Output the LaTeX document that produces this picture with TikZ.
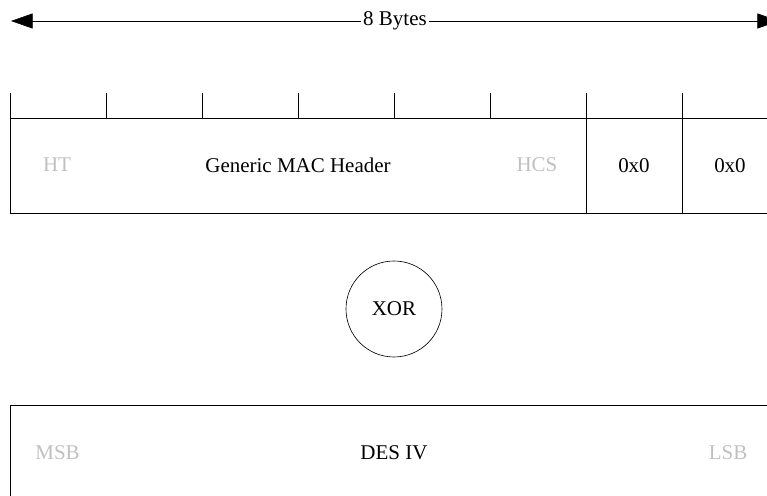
\documentclass[tikz,border=0pt]{standalone}
\usepackage{fontspec}
\setmainfont{Liberation Serif}
\usepackage{tikz}
\usetikzlibrary{%
  calc,%
  arrows.meta%
}
\definecolor{faint}{RGB}{192,192,192}

\begin{document}
\begin{tikzpicture}[line width=0.6pt,
  every node/.style={font=\fontsize{19.9}{24}\selectfont},
  field/.style={draw, rectangle, inner sep=0pt, outer sep=0pt, minimum height=3.167cm},
  edgelabel/.style={text=faint},
  bigtip/.style={-{Triangle[length=0.72cm,width=0.5cm]}}]
\useasboundingbox (0,0) rectangle (25.567,16.533);

% total length arrow
\coordinate (lend) at (0.367,15.833);
\coordinate (rend) at (25.967,15.833);
\node[inner sep=2pt] (bytes) at (13.167,15.833) {8 Bytes};
\draw
	(bytes) edge[bigtip] (lend)
	(bytes) edge[bigtip] (rend)
;

% byte ticks
\foreach \i in {0,...,8}
	\draw (0.333+3.2*\i,12.6) -- (0.333+3.2*\i,13.433);

% header block
\node[field, minimum width=19.2cm] (mac) at (9.933,11.017) {Generic MAC Header};
\node[field, minimum width=3.2cm] (pad1) at (21.133,11.017) {0x0};
\node[field, minimum width=3.2cm] (pad2) at (24.333,11.017) {0x0};
\node[edgelabel] (ht) at (1.9,11.033) {HT};
\node[edgelabel] (hcs) at (17.9,11.033) {HCS};

\node[draw, circle, minimum size=3.2cm, inner sep=0pt] (xor) at (13.133,6.233) {XOR};

% IV block
\node[field, minimum width=25.6cm] (iv) at (13.133,1.45) {DES IV};
\node[edgelabel] (msb) at (1.917,1.433) {MSB};
\node[edgelabel] (lsb) at (24.267,1.433) {LSB};
\end{tikzpicture}
\end{document}
